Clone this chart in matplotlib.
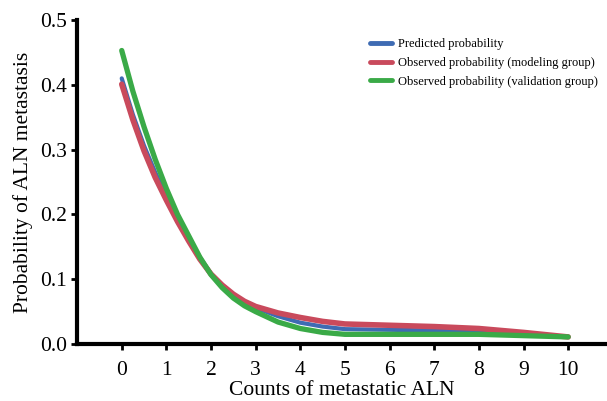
import matplotlib
matplotlib.use("Agg")
import matplotlib.pyplot as plt
import numpy as np

plt.rcParams["font.family"] = ["Liberation Serif", "DejaVu Serif"]

# smoothed calibration curves: quarter steps up to 3, half steps to 5, then unit steps
counts = [0, 0.25, 0.5, 0.75, 1, 1.25, 1.5, 1.75, 2, 2.25, 2.5, 2.75, 3,
          3.5, 4, 4.5, 5, 6, 7, 8, 9, 10]
predicted = [0.410, 0.354, 0.306, 0.265, 0.229, 0.195, 0.163, 0.134, 0.108,
             0.089, 0.075, 0.064, 0.056,
             0.043, 0.033, 0.027, 0.023, 0.022, 0.021, 0.019, 0.015, 0.011]
observed_model = [0.401, 0.346, 0.298, 0.257, 0.222, 0.189, 0.159, 0.131, 0.108,
                  0.091, 0.077, 0.066, 0.058,
                  0.048, 0.041, 0.035, 0.031, 0.029, 0.027, 0.024, 0.018, 0.011]
observed_valid = [0.453, 0.390, 0.335, 0.285, 0.240, 0.200, 0.167, 0.134, 0.107,
                  0.087, 0.071, 0.059, 0.050,
                  0.034, 0.024, 0.018, 0.015, 0.015, 0.015, 0.015, 0.013, 0.011]

series = [
    ("Predicted probability", predicted, "#3e6bb3", 3.0),
    ("Observed probability (modeling group)", observed_model, "#c94a5c", 4.0),
    ("Observed probability (validation group)", observed_valid, "#3aaa47", 3.8),
]

fig = plt.figure(figsize=(6.07, 4.01), dpi=100)
ax = fig.add_axes([0.127, 0.142, 0.873, 0.808])

for label, vals, color, lw in series:
    ax.plot(counts, vals, color=color, lw=lw, label=label,
            solid_capstyle="round", solid_joinstyle="round")

ax.set_xlim(-1.0, 10.87)
ax.set_ylim(0, 0.5)
ax.set_xticks(np.arange(0, 11))
ax.set_yticks([0.0, 0.1, 0.2, 0.3, 0.4, 0.5])
ax.set_yticklabels([f"{v:.1f}" for v in ax.get_yticks()])

for side in ("top", "right"):
    ax.spines[side].set_visible(False)
for side in ("left", "bottom"):
    ax.spines[side].set_linewidth(3.0)
    ax.spines[side].set_capstyle("projecting")

ax.tick_params(axis="both", direction="out", length=4, width=2,
               labelsize=15.5)
ax.tick_params(axis="x", pad=8.5)
ax.tick_params(axis="y", pad=3)

ax.set_xlabel("Counts of metastatic ALN", fontsize=15.5, labelpad=0.5)
ax.set_ylabel("Probability of ALN metastasis", fontsize=15.5, labelpad=5)

leg = ax.legend(loc="upper left", bbox_to_anchor=(0.543, 0.96), frameon=False,
                fontsize=9, handlelength=1.8, handletextpad=0.45,
                labelspacing=0.55, borderaxespad=0)
for line in leg.get_lines():
    line.set_linewidth(3.5)

fig.savefig("out.png", dpi=100)
